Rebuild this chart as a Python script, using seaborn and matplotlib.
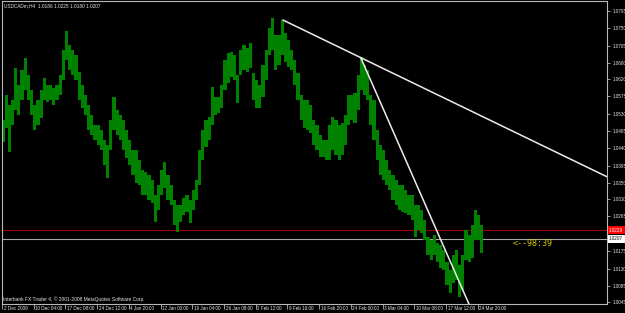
import numpy as np
import pandas as pd
import matplotlib
matplotlib.use("Agg")
import matplotlib.pyplot as plt
import matplotlib.transforms as mtransforms
import seaborn as sns

# ---------------- data ----------------
header_text = "USDCADm,H4  1.0186 1.0225 1.0180 1.0207"
footer_text = "Interbank FX Trader 4, \u00a9 2001-2008 MetaQuotes Software Corp."
countdown_text = "<--98:39"

bars_per_chunk = 3  # each entry = 3 H4 bars (12 hours)

chunk_high = [
    1.0513, 1.0578, 1.0552, 1.0565, 1.0647, 1.0604, 1.0642, 1.0673, 1.0629, 1.0591,
    1.0552, 1.0565, 1.0591, 1.0622, 1.0604, 1.0604, 1.0596, 1.0604, 1.0629, 1.0694,
    1.0743, 1.0707, 1.0694, 1.0681, 1.0637, 1.0604, 1.0578, 1.0552, 1.0526, 1.0500,
    1.0500, 1.0488, 1.0462, 1.0449, 1.0513, 1.0573, 1.0539, 1.0526, 1.0513, 1.0488,
    1.0462, 1.0436, 1.0436, 1.0410, 1.0385, 1.0379, 1.0372, 1.0359, 1.0320, 1.0346,
    1.0385, 1.0405, 1.0372, 1.0346, 1.0307, 1.0294, 1.0294, 1.0312, 1.0320, 1.0307,
    1.0333, 1.0359, 1.0436, 1.0488, 1.0513, 1.0521, 1.0598, 1.0573, 1.0573, 1.0604,
    1.0668, 1.0686, 1.0689, 1.0681, 1.0629, 1.0694, 1.0707, 1.0699, 1.0712, 1.0635,
    1.0616, 1.0604, 1.0655, 1.0694, 1.0750, 1.0776, 1.0732, 1.0732, 1.0771, 1.0738,
    1.0720, 1.0694, 1.0668, 1.0635, 1.0578, 1.0565, 1.0565, 1.0552, 1.0513, 1.0500,
    1.0475, 1.0462, 1.0462, 1.0500, 1.0521, 1.0513, 1.0500, 1.0506, 1.0526, 1.0578,
    1.0578, 1.0583, 1.0629, 1.0676, 1.0655, 1.0642, 1.0578, 1.0565, 1.0488, 1.0449,
    1.0436, 1.0410, 1.0385, 1.0372, 1.0359, 1.0346, 1.0346, 1.0333, 1.0320, 1.0320,
    1.0294, 1.0294, 1.0281, 1.0256, 1.0212, 1.0204, 1.0217, 1.0196, 1.0191, 1.0178,
    1.0147, 1.0127, 1.0165, 1.0178, 1.0140, 1.0165, 1.0230, 1.0217, 1.0243, 1.0281,
    1.0269, 1.0243,
]
chunk_low = [
    1.0457, 1.0493, 1.0431, 1.0500, 1.0539, 1.0526, 1.0565, 1.0591, 1.0565, 1.0526,
    1.0488, 1.0500, 1.0519, 1.0565, 1.0560, 1.0565, 1.0552, 1.0565, 1.0578, 1.0616,
    1.0668, 1.0642, 1.0629, 1.0616, 1.0565, 1.0544, 1.0526, 1.0488, 1.0475, 1.0462,
    1.0449, 1.0436, 1.0397, 1.0364, 1.0436, 1.0488, 1.0475, 1.0462, 1.0436, 1.0415,
    1.0397, 1.0372, 1.0351, 1.0346, 1.0320, 1.0320, 1.0307, 1.0300, 1.0251, 1.0281,
    1.0320, 1.0338, 1.0307, 1.0294, 1.0243, 1.0225, 1.0251, 1.0269, 1.0276, 1.0248,
    1.0281, 1.0307, 1.0346, 1.0410, 1.0444, 1.0462, 1.0500, 1.0526, 1.0531, 1.0544,
    1.0591, 1.0609, 1.0624, 1.0616, 1.0557, 1.0629, 1.0642, 1.0637, 1.0647, 1.0565,
    1.0544, 1.0544, 1.0573, 1.0616, 1.0681, 1.0694, 1.0642, 1.0655, 1.0681, 1.0663,
    1.0650, 1.0642, 1.0604, 1.0565, 1.0513, 1.0493, 1.0488, 1.0480, 1.0449, 1.0436,
    1.0418, 1.0418, 1.0410, 1.0410, 1.0436, 1.0423, 1.0410, 1.0423, 1.0449, 1.0500,
    1.0513, 1.0506, 1.0539, 1.0591, 1.0578, 1.0565, 1.0500, 1.0462, 1.0410, 1.0372,
    1.0359, 1.0346, 1.0333, 1.0307, 1.0294, 1.0281, 1.0276, 1.0274, 1.0269, 1.0256,
    1.0212, 1.0230, 1.0222, 1.0204, 1.0165, 1.0153, 1.0165, 1.0147, 1.0132, 1.0127,
    1.0088, 1.0068, 1.0093, 1.0101, 1.0057, 1.0075, 1.0153, 1.0147, 1.0158, 1.0204,
    1.0204, 1.0171,
]

date_labels = [
    "2 Dec 2009", "10 Dec 04:00", "17 Dec 08:00", "24 Dec 12:00", "4 Jan 20:00",
    "12 Jan 00:00", "19 Jan 04:00", "26 Jan 08:00", "2 Feb 12:00", "9 Feb 16:00",
    "16 Feb 20:00", "24 Feb 00:00", "3 Mar 04:00", "10 Mar 08:00", "17 Mar 12:00",
    "24 Mar 20:00",
]
bars_per_label = 30
visible_bars = 572.4

price_ticks = [1.0795, 1.0750, 1.0705, 1.0660, 1.0620, 1.0575, 1.0530, 1.0485,
               1.0440, 1.0395, 1.0350, 1.0310, 1.0265, 1.0175, 1.0130, 1.0085, 1.0045]
price_min, price_max = 1.0039, 1.0820
ask_price = 1.0229
bid_price = 1.0207

# trend lines (bar index, price) anchors; drawn as rays to the right
trend1_x = [265.8, 339.4]
trend1_y = [1.0771, 1.0674]
trend2_x = [339.4, 440.0]
trend2_y = [1.0674, 1.0050]

# ---------------- style ----------------
sns.set_theme(style="dark")
plt.rcParams["font.family"] = ["Liberation Sans", "DejaVu Sans"]

BG = "#000000"
GREEN = "#008200"
FRAME = "#b8b8b8"
TXT = "#e6e6e6"

fig = plt.figure(figsize=(6.25, 3.13), dpi=100, facecolor=BG)
ax = fig.add_axes([2 / 625, 9 / 313, 605 / 625, 303 / 313])
ax.set_facecolor(BG)
ax.grid(False)

# ---------------- price bars ----------------
n = len(chunk_high)
df = pd.DataFrame({
    "bar": np.arange(n) * bars_per_chunk + (bars_per_chunk - 1) / 2,
    "high": chunk_high,
    "low": chunk_low,
})
ax.bar(df["bar"], df["high"] - df["low"], bottom=df["low"], width=bars_per_chunk,
       color=GREEN, linewidth=0, zorder=2, antialiased=False)

# bid / ask lines
ax.axhline(ask_price, color="#a00000", lw=0.8, zorder=1)
ax.axhline(bid_price, color="#a8a8a8", lw=0.8, zorder=1)

# ---------------- trend lines (rays) ----------------
def ray(xs, ys, xmax):
    slope = (ys[1] - ys[0]) / (xs[1] - xs[0])
    return [xs[0], xmax], [ys[0], ys[0] + slope * (xmax - xs[0])]

rx1, ry1 = ray(trend1_x, trend1_y, visible_bars)
rx2, ry2 = ray(trend2_x, trend2_y, visible_bars)
tl = pd.DataFrame({"x": rx1 + rx2, "y": ry1 + ry2, "line": ["a", "a", "b", "b"]})
sns.lineplot(data=tl, x="x", y="y", units="line", estimator=None, color="#ececec",
             lw=1.1, ax=ax, zorder=3, legend=False)

ax.set_xlim(0, visible_bars)
ax.set_ylim(price_min, price_max)
ax.set_xlabel("")
ax.set_ylabel("")

# ---------------- axes ----------------
for s in ax.spines.values():
    s.set_visible(True)
    s.set_color(FRAME)
    s.set_linewidth(0.8)

ax.yaxis.tick_right()
ax.set_yticks(price_ticks)
ax.set_yticklabels([f"{p:.4f}" for p in price_ticks])
ax.tick_params(axis="y", which="both", right=True, left=False, length=2.2, width=0.6,
               color=FRAME, labelsize=3.3, labelcolor=TXT, pad=1.6, direction="out")

xt = np.arange(len(date_labels)) * bars_per_label
ax.set_xticks(xt)
ax.set_xticklabels(date_labels, ha="left")
ax.tick_params(axis="x", which="both", bottom=True, length=3.6, width=0.6, color=FRAME,
               labelsize=3.3, labelcolor=TXT, pad=-2.3, direction="out")
shift = mtransforms.ScaledTranslation(1.6 / 100, 0, fig.dpi_scale_trans)
for lab in ax.get_xticklabels():
    lab.set_transform(lab.get_transform() + shift)

# price labels on axis
blend = mtransforms.blended_transform_factory(ax.transAxes, ax.transData)
ax.text(1.0035, ask_price, f"{ask_price:.4f}", transform=blend, ha="left", va="center",
        fontsize=3.3, color="#ffffff", zorder=5, clip_on=False,
        bbox=dict(boxstyle="square,pad=0.35", fc="#ff0000", ec="none"))
ax.text(1.0035, bid_price, f"{bid_price:.4f}", transform=blend, ha="left", va="center",
        fontsize=3.3, color="#000000", zorder=5, clip_on=False,
        bbox=dict(boxstyle="square,pad=0.35", fc="#ffffff", ec="none"))

# countdown text
ax.text(0.8446, bid_price, countdown_text, transform=blend, ha="left", va="top",
        fontsize=6, color="#d8c800", family="DejaVu Sans Mono", zorder=4)

# header and footer
ax.text(0.004, 0.992, header_text, transform=ax.transAxes, ha="left", va="top",
        fontsize=3.4, color=TXT, zorder=4)
ax.text(0.002, 0.0175, footer_text, transform=ax.transAxes, ha="left", va="center",
        fontsize=3.5, color=TXT, zorder=4)

fig.savefig("out.png", dpi=100, facecolor=BG)
